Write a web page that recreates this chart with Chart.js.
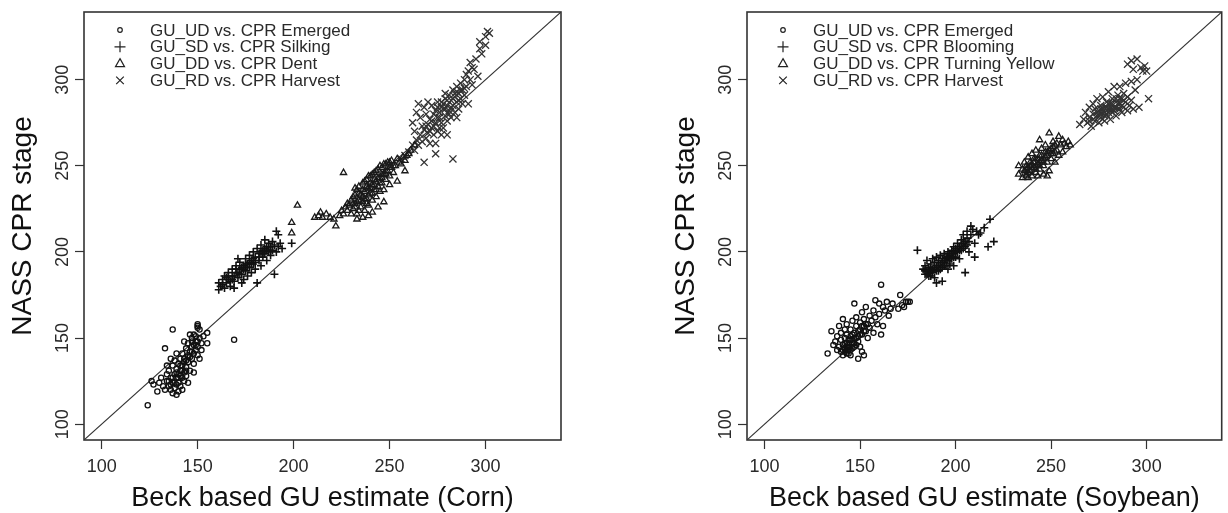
<!DOCTYPE html>
<html>
<head>
<meta charset="utf-8">
<script src="https://cdn.jsdelivr.net/npm/chart.js@4.4.1/dist/chart.umd.min.js"></script>
<style>
  html, body { margin: 0; padding: 0; background: #fff; }
  body { width: 1228px; height: 513px; position: relative; overflow: hidden; }
  canvas { position: absolute; top: 0; }
  #cornChart { left: 0; }
  #soyChart { left: 614px; }
</style>
</head>
<body>
<canvas id="cornChart" width="614" height="513"></canvas>
<canvas id="soyChart" width="614" height="513"></canvas>
<script>
// axis range (same on both axes) and tick labels
const axisRange = [90.8, 339.3];
const xTicks = [100, 150, 200, 250, 300];
const yTicks = [100, 150, 200, 250, 300];

const cornLabels = ['GU_UD vs. CPR Emerged', 'GU_SD vs. CPR Silking', 'GU_DD vs. CPR Dent', 'GU_RD vs. CPR Harvest'];
const soyLabels = ['GU_UD vs. CPR Emerged', 'GU_SD vs. CPR Blooming', 'GU_DD vs. CPR Turning Yellow', 'GU_RD vs. CPR Harvest'];

// Corn: [GU estimate, CPR stage]
const cornEmerged = [
  [124,111],[137,155],[133,144],[139,117],[169,149],[150,158],[150,157],[150,156],[151,155],[155,153],
  [155,147],[151,138],[129,119],[127,123],[126,125],[130,124],[131,127],[132,122],[133,120],[134,125],
  [134,129],[135,122],[135,131],[136,127],[136,120],[137,134],[137,124],[138,129],[138,121],[138,137],
  [139,127],[139,132],[140,124],[140,135],[140,129],[141,138],[141,122],[141,131],[142,127],[142,141],
  [142,134],[143,130],[143,125],[143,138],[144,144],[144,133],[144,128],[145,140],[145,136],[145,147],
  [146,131],[146,142],[147,138],[147,145],[147,150],[148,135],[148,141],[148,146],[149,143],[149,148],
  [150,140],[150,145],[151,150],[152,147],[152,143],[153,151],[136,138],[134,134],[139,141],[143,148],
  [146,152],[142,120],[140,119],[137,118],[145,124],[148,130],[135,125],[137,127],[139,130],[141,134],
  [143,136],[145,139],[147,142],[149,146],[138,124],[140,127],[142,131],[144,137],[146,139],[136,123],
  [139,123],[141,128],[144,131],[150,148],[149,151],[148,152],[147,148]
];
const cornSilking = [
  [161,178],[161,182],[162,180],[163,184],[164,179],[164,186],[165,182],[166,188],[166,184],[167,180],
  [168,186],[168,190],[169,183],[170,188],[170,192],[171,185],[172,190],[172,194],[173,187],[173,182],
  [174,192],[175,189],[175,196],[176,193],[176,186],[177,198],[177,191],[178,195],[178,188],[179,200],
  [179,193],[180,197],[180,190],[181,182],[181,202],[182,195],[182,199],[183,204],[183,192],[184,197],
  [184,201],[185,207],[185,199],[186,203],[186,195],[187,200],[187,205],[188,198],[188,203],[189,201],
  [189,206],[190,187],[190,204],[191,200],[191,212],[192,210],[192,203],[193,205],[194,202],[199,205],
  [169,179],[171,196],[174,184],[166,186],[168,184],[170,190],[172,187],[174,190],[176,191],[178,193],
  [180,194],[182,197],[184,199],[186,201],[188,201],[171,188],[173,191],[175,193],[177,194],[179,196],
  [183,200],[185,202],[187,203],[165,185],[163,181],[167,183],[169,186]
];
const cornDent = [
  [199,211],[199,217],[202,227],[226,246],[211,220],[213,221],[215,220],[217,222],[219,220],[214,223],
  [221,219],[222,215],[254,241],[258,247],[250,239],[224,221],[226,222],[228,224],[229,227],[230,230],
  [231,225],[232,233],[232,228],[233,236],[233,222],[234,230],[234,238],[235,226],[235,233],[236,240],
  [236,229],[237,235],[237,224],[238,231],[238,242],[239,237],[239,227],[240,234],[240,244],[241,239],
  [241,230],[242,236],[242,246],[243,241],[243,232],[244,238],[244,248],[245,243],[245,235],[246,240],
  [246,249],[247,245],[247,236],[248,242],[248,251],[249,247],[250,244],[250,252],[251,249],[252,246],
  [253,250],[255,252],[257,255],[259,256],[261,259],[263,262],[236,220],[239,221],[241,223],[244,226],
  [247,229],[230,222],[233,219],[231,232],[232,237],[234,234],[236,236],[237,241],[238,238],[239,244],
  [240,240],[241,245],[242,242],[243,247],[244,243],[245,250],[246,245],[247,251],[248,247],[249,252],
  [250,249],[235,230],[237,231],[240,237],[242,239],[245,240],[243,236],[239,233],[236,232],[233,229],
  [232,226],[234,224],[228,228],[227,226],[225,224],[231,228],[238,228],[241,234],[246,243],[248,245],
  [251,253],[252,250],[254,254],[256,251],[258,253],[260,257]
];
const cornHarvest = [
  [256,254],[258,256],[260,258],[262,262],[263,259],[264,265],[265,262],[266,268],[267,264],[268,252],
  [268,271],[269,266],[270,274],[270,269],[271,277],[271,263],[272,272],[273,280],[273,268],[274,257],
  [274,275],[275,284],[275,278],[275,270],[276,281],[277,287],[277,275],[278,283],[278,272],[279,289],
  [279,279],[280,285],[280,276],[281,291],[281,282],[282,288],[282,278],[283,254],[283,294],[283,285],
  [284,290],[284,281],[285,296],[285,287],[286,292],[286,283],[287,298],[287,289],[288,294],[288,286],
  [289,300],[289,291],[290,303],[290,296],[291,286],[291,305],[292,300],[292,310],[293,307],[293,297],
  [294,306],[295,312],[296,302],[297,318],[297,322],[298,315],[300,325],[301,328],[300,320],[302,327],
  [274,263],[277,268],[280,268],[285,278],[262,275],[264,281],[265,286],[266,278],[268,284],[270,287],
  [272,285],[269,280],[263,270],[272,276],[274,282],[276,278],[278,286],[280,288],[282,284],[284,292],
  [286,288],[276,272],[279,283],[281,280],[283,289],[285,293],[287,294],[289,295],[271,270],[269,273],
  [267,273],[273,273],[275,287],[277,284],[279,292]
];

// Soybean: [GU estimate, CPR stage]
const soyEmerged = [
  [133,141],[135,154],[136,146],[137,148],[138,143],[138,151],[139,145],[139,157],[140,142],[140,149],
  [140,153],[141,146],[141,161],[141,140],[142,144],[142,150],[142,155],[143,141],[143,147],[143,152],
  [143,158],[144,143],[144,149],[144,145],[145,151],[145,155],[145,140],[146,147],[146,160],[146,144],
  [147,150],[147,153],[147,170],[148,146],[148,157],[148,162],[149,138],[149,151],[149,148],[150,155],
  [150,145],[150,159],[151,152],[151,165],[151,142],[152,140],[152,157],[152,161],[153,154],[153,168],
  [154,158],[154,150],[155,163],[155,156],[156,160],[157,166],[157,153],[158,162],[158,172],[159,158],
  [160,164],[160,170],[161,181],[161,152],[162,157],[162,168],[163,166],[164,171],[165,163],[166,167],
  [167,170],[170,167],[171,175],[172,169],[174,171],[175,171],[176,171],[173,168],[141,143],[142,147],
  [143,143],[144,147],[145,145],[146,149],[147,147],[144,141],[143,145],[145,149],[146,152],[148,150],
  [149,154],[150,152],[151,157],[152,154],[153,158],[142,142],[145,143],[147,145]
];
const soyBlooming = [
  [180,201],[183,190],[184,187],[184,192],[185,189],[185,195],[186,186],[186,191],[187,193],[187,188],
  [188,190],[188,196],[189,185],[189,194],[190,182],[190,192],[190,197],[191,189],[191,195],[192,193],
  [192,198],[193,183],[193,191],[193,196],[194,194],[194,199],[195,192],[195,197],[196,200],[196,195],
  [197,193],[197,198],[198,201],[198,196],[199,203],[199,199],[200,197],[200,202],[201,205],[201,200],
  [202,203],[202,196],[203,207],[203,201],[204,205],[204,210],[205,188],[205,203],[206,208],[206,212],
  [207,206],[207,200],[208,210],[208,215],[209,213],[210,197],[210,205],[211,212],[212,210],[213,211],
  [215,214],[217,203],[218,219],[220,206],[199,192],[196,190],[186,189],[187,190],[188,188],[189,191],
  [190,189],[191,192],[192,190],[193,194],[194,192],[195,195],[196,197],[197,196],[198,199],[199,197],
  [200,200],[201,202],[202,201],[203,204],[204,202],[205,206],[206,204],[185,187],[184,189],[187,186]
];
const soyTurningYellow = [
  [233,245],[233,250],[235,243],[235,248],[236,252],[237,245],[237,250],[238,255],[238,243],[239,247],
  [239,252],[240,257],[240,244],[241,249],[241,254],[242,246],[242,259],[243,251],[243,244],[244,256],
  [244,265],[244,248],[245,253],[245,260],[246,245],[246,250],[247,255],[247,262],[248,252],[248,258],
  [249,269],[249,247],[250,254],[250,260],[251,257],[251,264],[252,252],[252,262],[253,259],[254,267],
  [254,256],[255,262],[256,258],[256,265],[257,263],[258,261],[259,264],[260,262],[248,244],[242,254],
  [236,247],[237,248],[238,246],[239,250],[240,248],[241,252],[242,250],[243,254],[244,252],[245,256],
  [246,254],[247,258],[248,256],[249,259],[250,257],[251,261],[252,258],[253,263],[240,251],[242,248],
  [244,250],[246,252],[238,249],[237,244]
];
const soyHarvest = [
  [265,274],[267,277],[268,281],[269,275],[270,278],[270,284],[271,273],[272,280],[272,286],[273,276],
  [273,283],[274,279],[274,289],[275,282],[275,275],[276,285],[276,278],[277,281],[277,290],[278,284],
  [278,276],[279,287],[279,280],[280,283],[280,293],[281,277],[281,286],[282,289],[282,281],[283,284],
  [283,296],[284,287],[284,279],[285,291],[285,283],[286,286],[286,296],[287,289],[287,281],[288,292],
  [288,284],[289,287],[289,298],[290,282],[290,290],[291,285],[292,299],[292,288],[293,283],[294,294],
  [295,300],[290,309],[292,311],[293,306],[295,312],[297,307],[298,305],[299,308],[300,305],[301,289],
  [296,284],[274,281],[275,279],[276,283],[277,283],[278,281],[279,284],[280,281],[281,283],[282,286],
  [283,282],[284,284],[285,286],[286,289],[287,285],[288,288],[276,280],[278,279],[280,286],[282,283],
  [284,289],[286,283],[272,277],[270,276]
];

const FONT = '"Liberation Sans", Arial, Helvetica, sans-serif';

// marker styles for the 4 stages
const markers = [
  { pointStyle: 'circle', radius: 2.6, color: '#111', width: 1.3 },
  { pointStyle: 'cross', radius: 4, color: '#111', width: 1.6 },
  { pointStyle: 'triangle', radius: 3.6, color: '#1a1a1a', width: 1.3 },
  { pointStyle: 'crossRot', radius: 5, color: '#333', width: 1.3 }
];

function toPoints(arr) {
  return arr.map(p => ({ x: p[0], y: p[1] }));
}

function drawLegendMark(ctx, i, x, y) {
  ctx.beginPath();
  if (i === 0) {
    ctx.arc(x, y, 2.3, 0, Math.PI * 2);
  } else if (i === 1) {
    ctx.moveTo(x - 5.5, y); ctx.lineTo(x + 5.5, y);
    ctx.moveTo(x, y - 5.5); ctx.lineTo(x, y + 5.5);
  } else if (i === 2) {
    ctx.moveTo(x, y - 5); ctx.lineTo(x + 4.5, y + 3); ctx.lineTo(x - 4.5, y + 3); ctx.closePath();
  } else {
    ctx.moveTo(x - 3.8, y - 3.8); ctx.lineTo(x + 3.8, y + 3.8);
    ctx.moveTo(x + 3.8, y - 3.8); ctx.lineTo(x - 3.8, y + 3.8);
  }
  ctx.stroke();
}

const decor = {
  id: 'decor',
  afterDraw(chart, args, opts) {
    const { ctx, chartArea: a } = chart;
    const xs = chart.scales.x, ys = chart.scales.y;
    ctx.save();

    // plot box
    ctx.strokeStyle = '#333';
    ctx.lineWidth = 1.6;
    ctx.strokeRect(a.left, a.top, a.right - a.left, a.bottom - a.top);

    // tick labels
    ctx.fillStyle = '#2a2a2a';
    ctx.font = '18px ' + FONT;
    ctx.textAlign = 'center';
    ctx.textBaseline = 'alphabetic';
    xTicks.forEach(v => ctx.fillText(String(v), xs.getPixelForValue(v), 472));
    yTicks.forEach(v => {
      ctx.save();
      ctx.translate(a.left - 16, ys.getPixelForValue(v));
      ctx.rotate(-Math.PI / 2);
      ctx.fillText(String(v), 0, 0);
      ctx.restore();
    });

    // axis titles
    ctx.fillStyle = '#111';
    ctx.font = '27px ' + FONT;
    ctx.fillText(opts.xTitle, (a.left + a.right) / 2, 506);
    ctx.save();
    ctx.translate(a.left - 53, (a.top + a.bottom) / 2);
    ctx.rotate(-Math.PI / 2);
    ctx.font = '28px ' + FONT;
    ctx.fillText('NASS CPR stage', 0, 0);
    ctx.restore();

    // legend
    ctx.font = '17px ' + FONT;
    ctx.textAlign = 'left';
    ctx.textBaseline = 'middle';
    opts.labels.forEach((lab, i) => {
      const ry = a.top + 18 + i * 16.8;
      ctx.strokeStyle = '#222';
      ctx.lineWidth = 1.2;
      drawLegendMark(ctx, i, a.left + 36, ry);
      ctx.fillStyle = '#2a2a2a';
      ctx.fillText(lab, a.left + 66, ry + 1);
    });
    ctx.restore();
  }
};

function makeChart(id, series, labels, xTitle, pad) {
  const datasets = series.map((arr, i) => ({
    type: 'scatter',
    label: labels[i],
    data: toPoints(arr),
    pointStyle: markers[i].pointStyle,
    pointRadius: markers[i].radius,
    pointBorderWidth: markers[i].width,
    borderColor: markers[i].color,
    backgroundColor: 'rgba(0,0,0,0)',
    pointBackgroundColor: 'rgba(0,0,0,0)'
  }));
  // 1:1 line
  datasets.push({
    type: 'line',
    label: '1:1',
    data: [{ x: axisRange[0], y: axisRange[0] }, { x: axisRange[1], y: axisRange[1] }],
    borderColor: '#333',
    borderWidth: 1.1,
    pointRadius: 0,
    fill: false
  });

  const axis = (horizontal) => ({
    type: 'linear',
    min: axisRange[0],
    max: axisRange[1],
    afterBuildTicks: s => { s.ticks = (horizontal ? xTicks : yTicks).map(v => ({ value: v })); },
    afterFit: s => { if (horizontal) s.height = 0; else s.width = 0; },
    grid: { drawOnChartArea: false, drawTicks: true, tickLength: 9, tickColor: '#333', tickWidth: 1.2 },
    border: { display: false },
    ticks: { display: false }
  });

  return new Chart(document.getElementById(id).getContext('2d'), {
    type: 'scatter',
    data: { datasets },
    options: {
      responsive: false,
      animation: false,
      devicePixelRatio: 1,
      layout: { padding: pad },
      plugins: {
        legend: { display: false },
        tooltip: { enabled: false },
        decor: { xTitle, labels }
      },
      scales: { x: axis(true), y: axis(false) }
    },
    plugins: [decor]
  });
}

makeChart('cornChart', [cornEmerged, cornSilking, cornDent, cornHarvest], cornLabels,
  'Beck based GU estimate (Corn)', { left: 84, right: 53, top: 12, bottom: 73 });
makeChart('soyChart', [soyEmerged, soyBlooming, soyTurningYellow, soyHarvest], soyLabels,
  'Beck based GU estimate (Soybean)', { left: 133, right: 6, top: 12, bottom: 73 });
</script>
</body>
</html>
